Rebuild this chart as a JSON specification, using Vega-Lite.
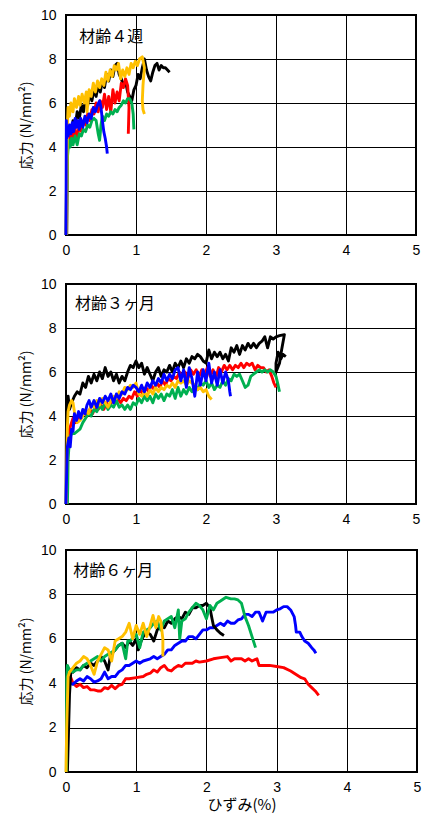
{
"$schema": "https://vega.github.io/schema/vega-lite/v6.json",
"padding": {"left": 18, "top": 7, "right": 5, "bottom": 0},
"spacing": 18,
"config": {
 "view": {"stroke": "#000", "strokeWidth": 2},
 "axis": {"grid": true, "gridColor": "#000", "gridWidth": 1, "gridOpacity": 1, "domain": false, "ticks": false,
  "labelFont": "Liberation Sans Narrow, Liberation Sans, sans-serif", "labelFontSize": 14, "labelColor": "#000",
  "titleFont": "Noto Sans CJK JP", "titleFontSize": 14, "titleColor": "#000", "titleFontWeight": "normal"},
 "axisX": {"labelPadding": 8, "format": "d", "labelFlush": false, "titleFontSize": 15, "titlePadding": 3},
 "axisY": {"labelPadding": 10, "titlePadding": 7},
 "line": {"strokeWidth": 2.9, "strokeJoin": "round"}
},
"vconcat": [
{
 "width": 350, "height": 220,
 "layer": [
 {
  "data": {"values": [
{"c":"black","x":0,"y":0},{"c":"black","x":0.01,"y":3.2},{"c":"black","x":0.02,"y":4.6},{"c":"black","x":0.04,"y":4.2},{"c":"black","x":0.06,"y":4.9},{"c":"black","x":0.08,"y":4.5},{"c":"black","x":0.1,"y":5.2},{"c":"black","x":0.13,"y":4.9},{"c":"black","x":0.16,"y":5.6},{"c":"black","x":0.19,"y":5.3},{"c":"black","x":0.22,"y":5.9},{"c":"black","x":0.25,"y":5.6},{"c":"black","x":0.28,"y":6.2},{"c":"black","x":0.31,"y":5.9},{"c":"black","x":0.34,"y":6.4},{"c":"black","x":0.37,"y":6.1},{"c":"black","x":0.4,"y":6.6},{"c":"black","x":0.43,"y":6.3},{"c":"black","x":0.46,"y":6.8},{"c":"black","x":0.49,"y":6.5},{"c":"black","x":0.52,"y":7.0},{"c":"black","x":0.55,"y":6.7},{"c":"black","x":0.58,"y":7.3},{"c":"black","x":0.61,"y":7.0},{"c":"black","x":0.64,"y":7.5},{"c":"black","x":0.67,"y":7.2},{"c":"black","x":0.7,"y":7.7},{"c":"black","x":0.73,"y":7.8},{"c":"black","x":0.76,"y":7.3},{"c":"black","x":0.79,"y":7.1},{"c":"black","x":0.82,"y":6.8},{"c":"black","x":0.85,"y":7.0},{"c":"black","x":0.88,"y":6.5},{"c":"black","x":0.91,"y":6.3},{"c":"black","x":0.94,"y":6.1},{"c":"black","x":0.97,"y":6.6},{"c":"black","x":1.0,"y":6.8},{"c":"black","x":1.03,"y":7.3},{"c":"black","x":1.06,"y":7.1},{"c":"black","x":1.09,"y":7.6},{"c":"black","x":1.12,"y":8.0},{"c":"black","x":1.15,"y":7.5},{"c":"black","x":1.18,"y":7.2},{"c":"black","x":1.21,"y":7.0},{"c":"black","x":1.24,"y":7.4},{"c":"black","x":1.27,"y":7.7},{"c":"black","x":1.3,"y":7.8},{"c":"black","x":1.33,"y":7.5},{"c":"black","x":1.36,"y":7.7},{"c":"black","x":1.39,"y":7.6},{"c":"black","x":1.42,"y":7.6},{"c":"black","x":1.45,"y":7.5},{"c":"black","x":1.48,"y":7.4},
{"c":"red","x":0.01,"y":0},{"c":"red","x":0.02,"y":3.8},{"c":"red","x":0.04,"y":4.5},{"c":"red","x":0.06,"y":4.1},{"c":"red","x":0.08,"y":4.6},{"c":"red","x":0.1,"y":4.2},{"c":"red","x":0.13,"y":4.8},{"c":"red","x":0.16,"y":4.4},{"c":"red","x":0.19,"y":5.0},{"c":"red","x":0.22,"y":4.7},{"c":"red","x":0.25,"y":5.2},{"c":"red","x":0.28,"y":5.0},{"c":"red","x":0.31,"y":5.5},{"c":"red","x":0.34,"y":5.2},{"c":"red","x":0.37,"y":5.7},{"c":"red","x":0.4,"y":5.5},{"c":"red","x":0.43,"y":6.0},{"c":"red","x":0.46,"y":5.6},{"c":"red","x":0.49,"y":6.1},{"c":"red","x":0.52,"y":5.8},{"c":"red","x":0.55,"y":6.4},{"c":"red","x":0.58,"y":5.7},{"c":"red","x":0.61,"y":6.3},{"c":"red","x":0.64,"y":5.6},{"c":"red","x":0.67,"y":6.6},{"c":"red","x":0.7,"y":6.0},{"c":"red","x":0.73,"y":6.5},{"c":"red","x":0.76,"y":6.1},{"c":"red","x":0.79,"y":6.9},{"c":"red","x":0.82,"y":6.7},{"c":"red","x":0.85,"y":7.1},{"c":"red","x":0.88,"y":6.8},{"c":"red","x":0.9,"y":5.8},{"c":"red","x":0.89,"y":4.6},
{"c":"green","x":0.01,"y":0},{"c":"green","x":0.02,"y":3.5},{"c":"green","x":0.04,"y":4.3},{"c":"green","x":0.06,"y":4.0},{"c":"green","x":0.08,"y":4.4},{"c":"green","x":0.1,"y":4.1},{"c":"green","x":0.13,"y":4.5},{"c":"green","x":0.16,"y":4.1},{"c":"green","x":0.19,"y":4.6},{"c":"green","x":0.22,"y":4.5},{"c":"green","x":0.25,"y":4.8},{"c":"green","x":0.28,"y":4.7},{"c":"green","x":0.31,"y":5.0},{"c":"green","x":0.34,"y":4.9},{"c":"green","x":0.37,"y":5.2},{"c":"green","x":0.4,"y":5.3},{"c":"green","x":0.43,"y":5.2},{"c":"green","x":0.46,"y":4.6},{"c":"green","x":0.48,"y":4.3},{"c":"green","x":0.5,"y":5.0},{"c":"green","x":0.52,"y":5.4},{"c":"green","x":0.55,"y":5.2},{"c":"green","x":0.58,"y":5.5},{"c":"green","x":0.61,"y":5.4},{"c":"green","x":0.64,"y":5.6},{"c":"green","x":0.67,"y":5.5},{"c":"green","x":0.7,"y":5.7},{"c":"green","x":0.73,"y":5.6},{"c":"green","x":0.76,"y":5.8},{"c":"green","x":0.79,"y":5.9},{"c":"green","x":0.82,"y":6.1},{"c":"green","x":0.85,"y":6.0},{"c":"green","x":0.88,"y":6.2},{"c":"green","x":0.91,"y":6.2},{"c":"green","x":0.94,"y":6.0},{"c":"green","x":0.96,"y":5.5},{"c":"green","x":0.97,"y":4.8},
{"c":"orange","x":0.005,"y":0},{"c":"orange","x":0.01,"y":2.2},{"c":"orange","x":0.02,"y":5.0},{"c":"orange","x":0.03,"y":5.8},{"c":"orange","x":0.05,"y":5.4},{"c":"orange","x":0.07,"y":6.0},{"c":"orange","x":0.1,"y":5.6},{"c":"orange","x":0.12,"y":6.2},{"c":"orange","x":0.15,"y":5.8},{"c":"orange","x":0.18,"y":6.3},{"c":"orange","x":0.2,"y":5.9},{"c":"orange","x":0.23,"y":6.4},{"c":"orange","x":0.26,"y":6.0},{"c":"orange","x":0.29,"y":6.5},{"c":"orange","x":0.3,"y":5.6},{"c":"orange","x":0.33,"y":6.6},{"c":"orange","x":0.36,"y":6.3},{"c":"orange","x":0.39,"y":6.9},{"c":"orange","x":0.42,"y":6.5},{"c":"orange","x":0.45,"y":7.0},{"c":"orange","x":0.48,"y":6.7},{"c":"orange","x":0.51,"y":7.1},{"c":"orange","x":0.54,"y":6.8},{"c":"orange","x":0.57,"y":7.4},{"c":"orange","x":0.6,"y":7.0},{"c":"orange","x":0.63,"y":7.5},{"c":"orange","x":0.66,"y":7.2},{"c":"orange","x":0.69,"y":7.7},{"c":"orange","x":0.72,"y":7.5},{"c":"orange","x":0.75,"y":7.8},{"c":"orange","x":0.78,"y":7.1},{"c":"orange","x":0.81,"y":7.5},{"c":"orange","x":0.84,"y":7.2},{"c":"orange","x":0.87,"y":7.6},{"c":"orange","x":0.9,"y":7.3},{"c":"orange","x":0.93,"y":7.8},{"c":"orange","x":0.96,"y":7.6},{"c":"orange","x":0.99,"y":7.9},{"c":"orange","x":1.02,"y":7.7},{"c":"orange","x":1.05,"y":8.0},{"c":"orange","x":1.09,"y":8.1},{"c":"orange","x":1.12,"y":7.6},{"c":"orange","x":1.1,"y":6.8},{"c":"orange","x":1.09,"y":6.1},{"c":"orange","x":1.1,"y":5.7},{"c":"orange","x":1.12,"y":5.5},
{"c":"blue","x":0,"y":0},{"c":"blue","x":0.005,"y":5.2},{"c":"blue","x":0.01,"y":4.4},{"c":"blue","x":0.02,"y":4.9},{"c":"blue","x":0.03,"y":4.5},{"c":"blue","x":0.05,"y":5.0},{"c":"blue","x":0.07,"y":4.6},{"c":"blue","x":0.09,"y":5.1},{"c":"blue","x":0.11,"y":4.7},{"c":"blue","x":0.13,"y":5.3},{"c":"blue","x":0.15,"y":4.9},{"c":"blue","x":0.17,"y":5.2},{"c":"blue","x":0.19,"y":4.8},{"c":"blue","x":0.21,"y":5.3},{"c":"blue","x":0.24,"y":4.9},{"c":"blue","x":0.27,"y":5.4},{"c":"blue","x":0.3,"y":5.1},{"c":"blue","x":0.33,"y":5.5},{"c":"blue","x":0.36,"y":5.3},{"c":"blue","x":0.39,"y":5.8},{"c":"blue","x":0.42,"y":5.6},{"c":"blue","x":0.45,"y":5.9},{"c":"blue","x":0.48,"y":6.1},{"c":"blue","x":0.5,"y":5.8},{"c":"blue","x":0.52,"y":5.2},{"c":"blue","x":0.54,"y":4.7},{"c":"blue","x":0.56,"y":4.4},{"c":"blue","x":0.58,"y":4.0},{"c":"blue","x":0.59,"y":3.7}
  ]},
  "mark": {"type": "line"},
  "encoding": {
   "x": {"field": "x", "type": "quantitative", "scale": {"domain": [0, 5], "nice": false}, "axis": {"values": [0,1,2,3,4,5], "title": null}},
   "y": {"field": "y", "type": "quantitative", "scale": {"domain": [0, 10], "nice": false}, "axis": {"values": [0,2,4,6,8,10], "title": "応力 (N/mm²)"}},
   "color": {"field": "c", "type": "nominal", "scale": {"domain": ["black","red","green","orange","blue"], "range": ["#000000","#FF0000","#00B050","#FFC000","#0000FF"]}, "legend": null},
   "order": {"value": null}
  }
 },
 {
  "data": {"values": [{"label": "材齢４週", "x": 0.19, "y": 8.98}]},
  "mark": {"type": "text", "align": "left", "baseline": "middle", "font": "Noto Sans CJK JP", "fontSize": 16, "color": "#000"},
  "encoding": {"x": {"field": "x", "type": "quantitative"}, "y": {"field": "y", "type": "quantitative"}, "text": {"field": "label"}}
 }
 ]
},
{
 "spacing": 15,
 "vconcat": [
{
 "width": 350, "height": 220,
 "layer": [
 {
  "data": {"values": [
{"c":"black","x":0,"y":0},{"c":"black","x":0.005,"y":3.0},{"c":"black","x":0.01,"y":4.8},{"c":"black","x":0.02,"y":4.1},{"c":"black","x":0.03,"y":4.9},{"c":"black","x":0.05,"y":4.3},{"c":"black","x":0.08,"y":4.6},{"c":"black","x":0.12,"y":4.9},{"c":"black","x":0.16,"y":5.1},{"c":"black","x":0.2,"y":5.0},{"c":"black","x":0.24,"y":5.5},{"c":"black","x":0.28,"y":5.3},{"c":"black","x":0.32,"y":5.8},{"c":"black","x":0.36,"y":5.5},{"c":"black","x":0.4,"y":5.9},{"c":"black","x":0.44,"y":5.6},{"c":"black","x":0.48,"y":6.0},{"c":"black","x":0.52,"y":5.7},{"c":"black","x":0.56,"y":6.2},{"c":"black","x":0.6,"y":5.8},{"c":"black","x":0.64,"y":6.0},{"c":"black","x":0.68,"y":5.6},{"c":"black","x":0.72,"y":5.9},{"c":"black","x":0.76,"y":5.5},{"c":"black","x":0.8,"y":5.8},{"c":"black","x":0.84,"y":5.6},{"c":"black","x":0.88,"y":6.0},{"c":"black","x":0.92,"y":6.3},{"c":"black","x":0.96,"y":6.2},{"c":"black","x":1.0,"y":6.5},{"c":"black","x":1.04,"y":6.2},{"c":"black","x":1.08,"y":6.4},{"c":"black","x":1.12,"y":5.9},{"c":"black","x":1.16,"y":6.2},{"c":"black","x":1.2,"y":5.9},{"c":"black","x":1.24,"y":5.6},{"c":"black","x":1.28,"y":6.0},{"c":"black","x":1.32,"y":6.2},{"c":"black","x":1.36,"y":5.8},{"c":"black","x":1.4,"y":6.1},{"c":"black","x":1.44,"y":6.0},{"c":"black","x":1.48,"y":6.3},{"c":"black","x":1.52,"y":6.0},{"c":"black","x":1.56,"y":6.4},{"c":"black","x":1.6,"y":6.2},{"c":"black","x":1.64,"y":6.5},{"c":"black","x":1.68,"y":6.2},{"c":"black","x":1.72,"y":6.6},{"c":"black","x":1.76,"y":6.4},{"c":"black","x":1.8,"y":6.7},{"c":"black","x":1.84,"y":6.6},{"c":"black","x":1.88,"y":6.8},{"c":"black","x":1.92,"y":6.7},{"c":"black","x":1.96,"y":6.5},{"c":"black","x":2.0,"y":6.4},{"c":"black","x":2.04,"y":7.0},{"c":"black","x":2.08,"y":6.6},{"c":"black","x":2.12,"y":6.9},{"c":"black","x":2.16,"y":6.7},{"c":"black","x":2.2,"y":6.9},{"c":"black","x":2.24,"y":6.6},{"c":"black","x":2.28,"y":6.8},{"c":"black","x":2.32,"y":6.5},{"c":"black","x":2.36,"y":7.1},{"c":"black","x":2.4,"y":6.9},{"c":"black","x":2.44,"y":7.2},{"c":"black","x":2.48,"y":6.8},{"c":"black","x":2.52,"y":7.2},{"c":"black","x":2.56,"y":7.0},{"c":"black","x":2.6,"y":7.3},{"c":"black","x":2.64,"y":7.1},{"c":"black","x":2.68,"y":7.3},{"c":"black","x":2.72,"y":7.1},{"c":"black","x":2.76,"y":7.3},{"c":"black","x":2.8,"y":7.4},{"c":"black","x":2.84,"y":7.6},{"c":"black","x":2.88,"y":7.1},{"c":"black","x":2.92,"y":7.6},{"c":"black","x":2.96,"y":7.5},{"c":"black","x":3.0,"y":7.6},{"c":"black","x":3.05,"y":7.65},{"c":"black","x":3.12,"y":7.7},{"c":"black","x":3.08,"y":7.0},{"c":"black","x":3.05,"y":6.4},{"c":"black","x":3.0,"y":6.0},{"c":"black","x":3.0,"y":6.4},{"c":"black","x":3.03,"y":6.9},{"c":"black","x":3.07,"y":6.6},{"c":"black","x":3.1,"y":6.8},{"c":"black","x":3.14,"y":6.7},
{"c":"red","x":0.01,"y":0},{"c":"red","x":0.02,"y":2.5},{"c":"red","x":0.04,"y":3.3},{"c":"red","x":0.07,"y":3.6},{"c":"red","x":0.1,"y":3.9},{"c":"red","x":0.14,"y":3.7},{"c":"red","x":0.18,"y":4.0},{"c":"red","x":0.22,"y":3.9},{"c":"red","x":0.26,"y":4.2},{"c":"red","x":0.3,"y":4.0},{"c":"red","x":0.34,"y":4.3},{"c":"red","x":0.38,"y":4.1},{"c":"red","x":0.42,"y":4.4},{"c":"red","x":0.46,"y":4.3},{"c":"red","x":0.5,"y":4.5},{"c":"red","x":0.54,"y":4.3},{"c":"red","x":0.58,"y":4.6},{"c":"red","x":0.62,"y":4.4},{"c":"red","x":0.66,"y":4.7},{"c":"red","x":0.7,"y":4.6},{"c":"red","x":0.74,"y":4.8},{"c":"red","x":0.78,"y":4.6},{"c":"red","x":0.82,"y":4.8},{"c":"red","x":0.86,"y":4.7},{"c":"red","x":0.9,"y":4.9},{"c":"red","x":0.94,"y":4.8},{"c":"red","x":0.98,"y":5.1},{"c":"red","x":1.02,"y":4.9},{"c":"red","x":1.06,"y":5.2},{"c":"red","x":1.1,"y":5.0},{"c":"red","x":1.14,"y":5.3},{"c":"red","x":1.18,"y":5.1},{"c":"red","x":1.22,"y":5.4},{"c":"red","x":1.26,"y":5.2},{"c":"red","x":1.3,"y":5.5},{"c":"red","x":1.34,"y":5.3},{"c":"red","x":1.38,"y":5.6},{"c":"red","x":1.42,"y":5.4},{"c":"red","x":1.46,"y":5.7},{"c":"red","x":1.5,"y":5.6},{"c":"red","x":1.54,"y":5.8},{"c":"red","x":1.58,"y":5.7},{"c":"red","x":1.62,"y":6.0},{"c":"red","x":1.66,"y":5.8},{"c":"red","x":1.7,"y":6.0},{"c":"red","x":1.74,"y":5.7},{"c":"red","x":1.78,"y":6.1},{"c":"red","x":1.82,"y":5.9},{"c":"red","x":1.86,"y":6.1},{"c":"red","x":1.9,"y":5.8},{"c":"red","x":1.94,"y":6.1},{"c":"red","x":1.98,"y":5.9},{"c":"red","x":2.02,"y":6.2},{"c":"red","x":2.06,"y":5.8},{"c":"red","x":2.1,"y":6.1},{"c":"red","x":2.14,"y":5.7},{"c":"red","x":2.18,"y":6.2},{"c":"red","x":2.22,"y":6.0},{"c":"red","x":2.26,"y":6.3},{"c":"red","x":2.3,"y":6.1},{"c":"red","x":2.34,"y":6.3},{"c":"red","x":2.38,"y":6.1},{"c":"red","x":2.42,"y":6.3},{"c":"red","x":2.46,"y":6.2},{"c":"red","x":2.5,"y":6.4},{"c":"red","x":2.54,"y":6.2},{"c":"red","x":2.58,"y":6.4},{"c":"red","x":2.62,"y":6.3},{"c":"red","x":2.66,"y":6.4},{"c":"red","x":2.7,"y":6.1},{"c":"red","x":2.74,"y":6.3},{"c":"red","x":2.78,"y":6.2},{"c":"red","x":2.82,"y":6.2},{"c":"red","x":2.86,"y":6.0},{"c":"red","x":2.9,"y":6.1},{"c":"red","x":2.94,"y":5.8},{"c":"red","x":2.97,"y":5.5},{"c":"red","x":3.0,"y":5.3},
{"c":"green","x":0.02,"y":0},{"c":"green","x":0.025,"y":0.8},{"c":"green","x":0.03,"y":2.0},{"c":"green","x":0.05,"y":3.0},{"c":"green","x":0.08,"y":3.2},{"c":"green","x":0.12,"y":3.2},{"c":"green","x":0.16,"y":3.3},{"c":"green","x":0.2,"y":3.4},{"c":"green","x":0.24,"y":3.7},{"c":"green","x":0.28,"y":3.9},{"c":"green","x":0.32,"y":4.1},{"c":"green","x":0.36,"y":4.0},{"c":"green","x":0.4,"y":4.3},{"c":"green","x":0.44,"y":4.2},{"c":"green","x":0.48,"y":4.5},{"c":"green","x":0.52,"y":4.3},{"c":"green","x":0.56,"y":4.6},{"c":"green","x":0.6,"y":4.3},{"c":"green","x":0.64,"y":4.5},{"c":"green","x":0.68,"y":4.4},{"c":"green","x":0.72,"y":4.7},{"c":"green","x":0.76,"y":4.4},{"c":"green","x":0.8,"y":4.5},{"c":"green","x":0.84,"y":4.3},{"c":"green","x":0.88,"y":4.5},{"c":"green","x":0.92,"y":4.3},{"c":"green","x":0.96,"y":4.6},{"c":"green","x":1.0,"y":4.5},{"c":"green","x":1.04,"y":4.8},{"c":"green","x":1.08,"y":4.6},{"c":"green","x":1.12,"y":4.9},{"c":"green","x":1.16,"y":4.7},{"c":"green","x":1.2,"y":4.9},{"c":"green","x":1.24,"y":4.6},{"c":"green","x":1.28,"y":5.0},{"c":"green","x":1.32,"y":4.8},{"c":"green","x":1.36,"y":5.0},{"c":"green","x":1.4,"y":4.7},{"c":"green","x":1.44,"y":5.0},{"c":"green","x":1.48,"y":4.9},{"c":"green","x":1.52,"y":5.2},{"c":"green","x":1.56,"y":4.8},{"c":"green","x":1.6,"y":5.3},{"c":"green","x":1.64,"y":4.9},{"c":"green","x":1.68,"y":5.2},{"c":"green","x":1.72,"y":5.0},{"c":"green","x":1.76,"y":5.3},{"c":"green","x":1.8,"y":5.1},{"c":"green","x":1.84,"y":5.4},{"c":"green","x":1.88,"y":5.2},{"c":"green","x":1.92,"y":5.5},{"c":"green","x":1.96,"y":5.4},{"c":"green","x":2.0,"y":5.6},{"c":"green","x":2.04,"y":5.3},{"c":"green","x":2.08,"y":5.5},{"c":"green","x":2.12,"y":5.2},{"c":"green","x":2.16,"y":5.4},{"c":"green","x":2.2,"y":5.3},{"c":"green","x":2.24,"y":5.6},{"c":"green","x":2.28,"y":5.4},{"c":"green","x":2.32,"y":5.7},{"c":"green","x":2.36,"y":5.6},{"c":"green","x":2.4,"y":5.9},{"c":"green","x":2.44,"y":5.8},{"c":"green","x":2.48,"y":5.9},{"c":"green","x":2.52,"y":5.6},{"c":"green","x":2.56,"y":5.3},{"c":"green","x":2.6,"y":5.4},{"c":"green","x":2.64,"y":5.8},{"c":"green","x":2.68,"y":5.9},{"c":"green","x":2.72,"y":6.0},{"c":"green","x":2.76,"y":6.1},{"c":"green","x":2.8,"y":6.0},{"c":"green","x":2.84,"y":6.1},{"c":"green","x":2.88,"y":6.0},{"c":"green","x":2.92,"y":6.1},{"c":"green","x":2.96,"y":6.0},{"c":"green","x":3.0,"y":5.8},{"c":"green","x":3.03,"y":5.4},{"c":"green","x":3.05,"y":5.1},
{"c":"orange","x":0.005,"y":0},{"c":"orange","x":0.01,"y":1.5},{"c":"orange","x":0.02,"y":3.5},{"c":"orange","x":0.03,"y":4.2},{"c":"orange","x":0.05,"y":4.5},{"c":"orange","x":0.08,"y":4.7},{"c":"orange","x":0.1,"y":4.6},{"c":"orange","x":0.12,"y":4.2},{"c":"orange","x":0.14,"y":3.9},{"c":"orange","x":0.16,"y":3.7},{"c":"orange","x":0.2,"y":3.8},{"c":"orange","x":0.24,"y":4.0},{"c":"orange","x":0.28,"y":4.3},{"c":"orange","x":0.32,"y":4.1},{"c":"orange","x":0.36,"y":4.5},{"c":"orange","x":0.4,"y":4.4},{"c":"orange","x":0.44,"y":4.7},{"c":"orange","x":0.48,"y":4.5},{"c":"orange","x":0.52,"y":4.8},{"c":"orange","x":0.56,"y":4.6},{"c":"orange","x":0.6,"y":4.4},{"c":"orange","x":0.64,"y":4.7},{"c":"orange","x":0.68,"y":4.9},{"c":"orange","x":0.72,"y":4.8},{"c":"orange","x":0.76,"y":5.1},{"c":"orange","x":0.8,"y":5.0},{"c":"orange","x":0.84,"y":5.3},{"c":"orange","x":0.88,"y":5.2},{"c":"orange","x":0.92,"y":5.4},{"c":"orange","x":0.96,"y":5.3},{"c":"orange","x":1.0,"y":5.5},{"c":"orange","x":1.04,"y":5.0},{"c":"orange","x":1.08,"y":4.9},{"c":"orange","x":1.12,"y":5.1},{"c":"orange","x":1.16,"y":4.9},{"c":"orange","x":1.2,"y":5.2},{"c":"orange","x":1.24,"y":5.0},{"c":"orange","x":1.28,"y":5.3},{"c":"orange","x":1.32,"y":5.1},{"c":"orange","x":1.36,"y":5.3},{"c":"orange","x":1.4,"y":5.2},{"c":"orange","x":1.44,"y":5.4},{"c":"orange","x":1.48,"y":5.3},{"c":"orange","x":1.52,"y":5.5},{"c":"orange","x":1.56,"y":5.3},{"c":"orange","x":1.6,"y":5.6},{"c":"orange","x":1.64,"y":5.5},{"c":"orange","x":1.68,"y":5.6},{"c":"orange","x":1.72,"y":5.4},{"c":"orange","x":1.76,"y":5.6},{"c":"orange","x":1.8,"y":5.5},{"c":"orange","x":1.84,"y":5.4},{"c":"orange","x":1.88,"y":5.2},{"c":"orange","x":1.92,"y":5.3},{"c":"orange","x":1.96,"y":5.1},{"c":"orange","x":2.0,"y":5.2},{"c":"orange","x":2.04,"y":4.9},{"c":"orange","x":2.08,"y":4.75},
{"c":"blue","x":0,"y":0},{"c":"blue","x":0.01,"y":1.5},{"c":"blue","x":0.02,"y":2.6},{"c":"blue","x":0.04,"y":3.0},{"c":"blue","x":0.06,"y":2.6},{"c":"blue","x":0.08,"y":3.4},{"c":"blue","x":0.1,"y":3.3},{"c":"blue","x":0.12,"y":4.1},{"c":"blue","x":0.15,"y":3.8},{"c":"blue","x":0.18,"y":4.2},{"c":"blue","x":0.21,"y":3.9},{"c":"blue","x":0.24,"y":4.3},{"c":"blue","x":0.27,"y":4.1},{"c":"blue","x":0.3,"y":4.5},{"c":"blue","x":0.33,"y":4.7},{"c":"blue","x":0.36,"y":4.4},{"c":"blue","x":0.4,"y":4.7},{"c":"blue","x":0.44,"y":4.4},{"c":"blue","x":0.48,"y":4.8},{"c":"blue","x":0.52,"y":4.6},{"c":"blue","x":0.56,"y":4.9},{"c":"blue","x":0.6,"y":4.7},{"c":"blue","x":0.64,"y":5.0},{"c":"blue","x":0.68,"y":4.6},{"c":"blue","x":0.72,"y":5.0},{"c":"blue","x":0.76,"y":4.8},{"c":"blue","x":0.8,"y":5.1},{"c":"blue","x":0.84,"y":5.0},{"c":"blue","x":0.88,"y":5.3},{"c":"blue","x":0.92,"y":5.2},{"c":"blue","x":0.96,"y":5.4},{"c":"blue","x":1.0,"y":5.3},{"c":"blue","x":1.04,"y":5.1},{"c":"blue","x":1.08,"y":5.4},{"c":"blue","x":1.12,"y":5.1},{"c":"blue","x":1.16,"y":5.5},{"c":"blue","x":1.2,"y":5.3},{"c":"blue","x":1.24,"y":5.6},{"c":"blue","x":1.28,"y":5.4},{"c":"blue","x":1.32,"y":5.7},{"c":"blue","x":1.36,"y":5.5},{"c":"blue","x":1.4,"y":5.9},{"c":"blue","x":1.44,"y":5.6},{"c":"blue","x":1.48,"y":5.9},{"c":"blue","x":1.52,"y":5.7},{"c":"blue","x":1.56,"y":6.1},{"c":"blue","x":1.6,"y":6.2},{"c":"blue","x":1.64,"y":5.6},{"c":"blue","x":1.68,"y":6.1},{"c":"blue","x":1.72,"y":5.3},{"c":"blue","x":1.76,"y":6.2},{"c":"blue","x":1.8,"y":5.7},{"c":"blue","x":1.84,"y":4.9},{"c":"blue","x":1.88,"y":6.0},{"c":"blue","x":1.92,"y":5.4},{"c":"blue","x":1.96,"y":6.1},{"c":"blue","x":2.0,"y":5.6},{"c":"blue","x":2.04,"y":6.4},{"c":"blue","x":2.08,"y":5.5},{"c":"blue","x":2.12,"y":6.0},{"c":"blue","x":2.16,"y":5.4},{"c":"blue","x":2.2,"y":6.1},{"c":"blue","x":2.24,"y":5.5},{"c":"blue","x":2.28,"y":6.0},{"c":"blue","x":2.32,"y":5.6},{"c":"blue","x":2.34,"y":5.1},{"c":"blue","x":2.35,"y":4.9}
  ]},
  "mark": {"type": "line"},
  "encoding": {
   "x": {"field": "x", "type": "quantitative", "scale": {"domain": [0, 5], "nice": false}, "axis": {"values": [0,1,2,3,4,5], "title": null}},
   "y": {"field": "y", "type": "quantitative", "scale": {"domain": [0, 10], "nice": false}, "axis": {"values": [0,2,4,6,8,10], "title": "応力 (N/mm²)"}},
   "color": {"field": "c", "type": "nominal", "scale": {"domain": ["black","red","green","orange","blue"], "range": ["#000000","#FF0000","#00B050","#FFC000","#0000FF"]}, "legend": null},
   "order": {"value": null}
  }
 },
 {
  "data": {"values": [{"label": "材齢３ヶ月", "x": 0.13, "y": 9.08}]},
  "mark": {"type": "text", "align": "left", "baseline": "middle", "font": "Noto Sans CJK JP", "fontSize": 16, "color": "#000"},
  "encoding": {"x": {"field": "x", "type": "quantitative"}, "y": {"field": "y", "type": "quantitative"}, "text": {"field": "label"}}
 }
 ]
},
{
 "width": 351, "height": 222,
 "layer": [
 {
  "data": {"values": [
{"c":"red","x":0.005,"y":0},{"c":"red","x":0.02,"y":0.3},{"c":"red","x":0.03,"y":4.2},{"c":"red","x":0.05,"y":4.4},{"c":"red","x":0.1,"y":4.0},{"c":"red","x":0.15,"y":3.85},{"c":"red","x":0.2,"y":3.95},{"c":"red","x":0.25,"y":3.8},{"c":"red","x":0.3,"y":3.85},{"c":"red","x":0.35,"y":3.7},{"c":"red","x":0.4,"y":3.7},{"c":"red","x":0.45,"y":3.65},{"c":"red","x":0.5,"y":3.65},{"c":"red","x":0.55,"y":3.8},{"c":"red","x":0.6,"y":3.75},{"c":"red","x":0.65,"y":3.9},{"c":"red","x":0.7,"y":3.75},{"c":"red","x":0.75,"y":3.9},{"c":"red","x":0.8,"y":3.95},{"c":"red","x":0.85,"y":4.2},{"c":"red","x":0.9,"y":4.2},{"c":"red","x":1.0,"y":4.25},{"c":"red","x":1.1,"y":4.3},{"c":"red","x":1.15,"y":4.4},{"c":"red","x":1.2,"y":4.45},{"c":"red","x":1.25,"y":4.6},{"c":"red","x":1.3,"y":4.5},{"c":"red","x":1.35,"y":4.7},{"c":"red","x":1.4,"y":4.8},{"c":"red","x":1.45,"y":4.6},{"c":"red","x":1.5,"y":4.55},{"c":"red","x":1.55,"y":4.7},{"c":"red","x":1.6,"y":4.8},{"c":"red","x":1.65,"y":4.75},{"c":"red","x":1.7,"y":4.9},{"c":"red","x":1.8,"y":4.9},{"c":"red","x":1.85,"y":5.0},{"c":"red","x":1.9,"y":4.95},{"c":"red","x":2.0,"y":5.0},{"c":"red","x":2.1,"y":5.1},{"c":"red","x":2.2,"y":5.15},{"c":"red","x":2.3,"y":5.2},{"c":"red","x":2.35,"y":5.0},{"c":"red","x":2.4,"y":5.1},{"c":"red","x":2.5,"y":5.1},{"c":"red","x":2.55,"y":5.0},{"c":"red","x":2.6,"y":5.1},{"c":"red","x":2.65,"y":5.0},{"c":"red","x":2.72,"y":5.1},{"c":"red","x":2.75,"y":4.8},{"c":"red","x":2.8,"y":4.8},{"c":"red","x":2.9,"y":4.8},{"c":"red","x":3.0,"y":4.75},{"c":"red","x":3.1,"y":4.7},{"c":"red","x":3.2,"y":4.55},{"c":"red","x":3.3,"y":4.35},{"c":"red","x":3.35,"y":4.25},{"c":"red","x":3.4,"y":4.2},{"c":"red","x":3.45,"y":3.95},{"c":"red","x":3.5,"y":3.8},{"c":"red","x":3.55,"y":3.65},{"c":"red","x":3.6,"y":3.45},
{"c":"blue","x":0.01,"y":0},{"c":"blue","x":0.03,"y":4.3},{"c":"blue","x":0.05,"y":4.0},{"c":"blue","x":0.1,"y":3.95},{"c":"blue","x":0.15,"y":4.1},{"c":"blue","x":0.2,"y":4.2},{"c":"blue","x":0.25,"y":4.1},{"c":"blue","x":0.3,"y":4.3},{"c":"blue","x":0.35,"y":4.2},{"c":"blue","x":0.4,"y":4.05},{"c":"blue","x":0.45,"y":4.1},{"c":"blue","x":0.5,"y":4.2},{"c":"blue","x":0.55,"y":4.5},{"c":"blue","x":0.6,"y":4.2},{"c":"blue","x":0.65,"y":4.3},{"c":"blue","x":0.7,"y":4.3},{"c":"blue","x":0.75,"y":4.5},{"c":"blue","x":0.8,"y":4.6},{"c":"blue","x":0.85,"y":4.8},{"c":"blue","x":0.9,"y":4.8},{"c":"blue","x":0.95,"y":4.9},{"c":"blue","x":1.0,"y":5.0},{"c":"blue","x":1.05,"y":4.9},{"c":"blue","x":1.1,"y":5.0},{"c":"blue","x":1.2,"y":5.1},{"c":"blue","x":1.25,"y":5.2},{"c":"blue","x":1.3,"y":5.1},{"c":"blue","x":1.35,"y":5.2},{"c":"blue","x":1.4,"y":5.3},{"c":"blue","x":1.45,"y":5.5},{"c":"blue","x":1.5,"y":5.5},{"c":"blue","x":1.55,"y":5.7},{"c":"blue","x":1.6,"y":5.8},{"c":"blue","x":1.65,"y":5.9},{"c":"blue","x":1.7,"y":5.9},{"c":"blue","x":1.75,"y":6.1},{"c":"blue","x":1.8,"y":6.1},{"c":"blue","x":1.85,"y":6.0},{"c":"blue","x":1.9,"y":6.2},{"c":"blue","x":1.95,"y":6.4},{"c":"blue","x":2.0,"y":6.4},{"c":"blue","x":2.05,"y":6.5},{"c":"blue","x":2.1,"y":6.5},{"c":"blue","x":2.15,"y":6.6},{"c":"blue","x":2.2,"y":6.7},{"c":"blue","x":2.25,"y":6.6},{"c":"blue","x":2.3,"y":6.8},{"c":"blue","x":2.35,"y":6.7},{"c":"blue","x":2.4,"y":6.7},{"c":"blue","x":2.45,"y":6.85},{"c":"blue","x":2.5,"y":6.9},{"c":"blue","x":2.55,"y":7.1},{"c":"blue","x":2.6,"y":7.1},{"c":"blue","x":2.65,"y":7.0},{"c":"blue","x":2.7,"y":7.2},{"c":"blue","x":2.75,"y":7.2},{"c":"blue","x":2.8,"y":6.8},{"c":"blue","x":2.85,"y":7.2},{"c":"blue","x":2.9,"y":7.2},{"c":"blue","x":2.95,"y":7.2},{"c":"blue","x":3.0,"y":7.3},{"c":"blue","x":3.05,"y":7.35},{"c":"blue","x":3.1,"y":7.45},{"c":"blue","x":3.15,"y":7.45},{"c":"blue","x":3.2,"y":7.3},{"c":"blue","x":3.25,"y":7.0},{"c":"blue","x":3.27,"y":6.6},{"c":"blue","x":3.28,"y":6.3},{"c":"blue","x":3.33,"y":6.3},{"c":"blue","x":3.36,"y":6.1},{"c":"blue","x":3.4,"y":5.9},{"c":"blue","x":3.45,"y":5.8},{"c":"blue","x":3.5,"y":5.6},{"c":"blue","x":3.53,"y":5.5},{"c":"blue","x":3.56,"y":5.35},
{"c":"black","x":0.02,"y":0},{"c":"black","x":0.05,"y":3.5},{"c":"black","x":0.07,"y":4.6},{"c":"black","x":0.1,"y":4.5},{"c":"black","x":0.15,"y":4.7},{"c":"black","x":0.2,"y":4.6},{"c":"black","x":0.25,"y":4.8},{"c":"black","x":0.3,"y":4.7},{"c":"black","x":0.35,"y":4.9},{"c":"black","x":0.4,"y":4.8},{"c":"black","x":0.45,"y":5.0},{"c":"black","x":0.5,"y":5.2},{"c":"black","x":0.55,"y":5.0},{"c":"black","x":0.6,"y":4.6},{"c":"black","x":0.63,"y":5.2},{"c":"black","x":0.67,"y":5.4},{"c":"black","x":0.7,"y":5.5},{"c":"black","x":0.75,"y":5.7},{"c":"black","x":0.8,"y":5.8},{"c":"black","x":0.85,"y":5.6},{"c":"black","x":0.9,"y":5.9},{"c":"black","x":0.95,"y":5.7},{"c":"black","x":1.0,"y":6.0},{"c":"black","x":1.03,"y":5.5},{"c":"black","x":1.07,"y":5.9},{"c":"black","x":1.1,"y":6.1},{"c":"black","x":1.15,"y":6.3},{"c":"black","x":1.2,"y":6.2},{"c":"black","x":1.25,"y":5.9},{"c":"black","x":1.3,"y":6.4},{"c":"black","x":1.35,"y":6.6},{"c":"black","x":1.4,"y":6.5},{"c":"black","x":1.45,"y":6.8},{"c":"black","x":1.5,"y":6.7},{"c":"black","x":1.55,"y":6.9},{"c":"black","x":1.6,"y":7.0},{"c":"black","x":1.65,"y":6.9},{"c":"black","x":1.7,"y":7.2},{"c":"black","x":1.75,"y":7.1},{"c":"black","x":1.8,"y":7.4},{"c":"black","x":1.85,"y":7.4},{"c":"black","x":1.9,"y":7.5},{"c":"black","x":1.95,"y":7.5},{"c":"black","x":2.0,"y":7.6},{"c":"black","x":2.05,"y":7.4},{"c":"black","x":2.08,"y":6.9},{"c":"black","x":2.1,"y":6.6},{"c":"black","x":2.15,"y":6.4},{"c":"black","x":2.2,"y":6.25},{"c":"black","x":2.25,"y":6.15},
{"c":"green","x":0.005,"y":0},{"c":"green","x":0.01,"y":4.2},{"c":"green","x":0.02,"y":4.8},{"c":"green","x":0.05,"y":4.6},{"c":"green","x":0.1,"y":4.5},{"c":"green","x":0.15,"y":4.6},{"c":"green","x":0.2,"y":4.6},{"c":"green","x":0.25,"y":4.8},{"c":"green","x":0.3,"y":4.9},{"c":"green","x":0.35,"y":5.0},{"c":"green","x":0.4,"y":5.1},{"c":"green","x":0.45,"y":5.2},{"c":"green","x":0.5,"y":5.0},{"c":"green","x":0.55,"y":5.2},{"c":"green","x":0.6,"y":5.3},{"c":"green","x":0.65,"y":5.4},{"c":"green","x":0.7,"y":5.5},{"c":"green","x":0.75,"y":5.7},{"c":"green","x":0.8,"y":5.8},{"c":"green","x":0.85,"y":5.1},{"c":"green","x":0.88,"y":5.9},{"c":"green","x":0.92,"y":5.9},{"c":"green","x":0.96,"y":6.1},{"c":"green","x":1.0,"y":6.2},{"c":"green","x":1.05,"y":5.6},{"c":"green","x":1.1,"y":6.3},{"c":"green","x":1.15,"y":6.4},{"c":"green","x":1.2,"y":6.5},{"c":"green","x":1.25,"y":6.7},{"c":"green","x":1.3,"y":6.8},{"c":"green","x":1.35,"y":6.4},{"c":"green","x":1.4,"y":6.8},{"c":"green","x":1.45,"y":6.9},{"c":"green","x":1.5,"y":7.0},{"c":"green","x":1.55,"y":6.5},{"c":"green","x":1.6,"y":7.3},{"c":"green","x":1.62,"y":6.0},{"c":"green","x":1.65,"y":6.8},{"c":"green","x":1.7,"y":6.9},{"c":"green","x":1.75,"y":7.2},{"c":"green","x":1.8,"y":7.4},{"c":"green","x":1.85,"y":7.6},{"c":"green","x":1.9,"y":7.5},{"c":"green","x":1.95,"y":7.3},{"c":"green","x":2.0,"y":6.9},{"c":"green","x":2.05,"y":7.5},{"c":"green","x":2.1,"y":7.3},{"c":"green","x":2.15,"y":7.6},{"c":"green","x":2.2,"y":7.7},{"c":"green","x":2.28,"y":7.87},{"c":"green","x":2.35,"y":7.8},{"c":"green","x":2.4,"y":7.8},{"c":"green","x":2.45,"y":7.75},{"c":"green","x":2.5,"y":7.6},{"c":"green","x":2.55,"y":7.0},{"c":"green","x":2.6,"y":6.6},{"c":"green","x":2.65,"y":6.1},{"c":"green","x":2.7,"y":5.6},
{"c":"orange","x":0,"y":0},{"c":"orange","x":0.01,"y":2.0},{"c":"orange","x":0.03,"y":4.3},{"c":"orange","x":0.05,"y":4.5},{"c":"orange","x":0.1,"y":4.7},{"c":"orange","x":0.15,"y":4.9},{"c":"orange","x":0.2,"y":5.0},{"c":"orange","x":0.25,"y":5.2},{"c":"orange","x":0.3,"y":5.1},{"c":"orange","x":0.35,"y":4.8},{"c":"orange","x":0.4,"y":4.4},{"c":"orange","x":0.45,"y":5.0},{"c":"orange","x":0.5,"y":5.3},{"c":"orange","x":0.55,"y":5.6},{"c":"orange","x":0.6,"y":5.5},{"c":"orange","x":0.65,"y":5.0},{"c":"orange","x":0.7,"y":5.9},{"c":"orange","x":0.75,"y":6.0},{"c":"orange","x":0.8,"y":6.1},{"c":"orange","x":0.85,"y":6.3},{"c":"orange","x":0.9,"y":6.7},{"c":"orange","x":0.95,"y":6.0},{"c":"orange","x":1.0,"y":6.6},{"c":"orange","x":1.05,"y":6.2},{"c":"orange","x":1.1,"y":6.7},{"c":"orange","x":1.15,"y":6.1},{"c":"orange","x":1.2,"y":6.6},{"c":"orange","x":1.24,"y":7.05},{"c":"orange","x":1.28,"y":6.5},{"c":"orange","x":1.32,"y":7.0},{"c":"orange","x":1.35,"y":6.8},{"c":"orange","x":1.38,"y":6.0},{"c":"orange","x":1.38,"y":5.2}
  ]},
  "mark": {"type": "line"},
  "encoding": {
   "x": {"field": "x", "type": "quantitative", "scale": {"domain": [0, 5], "nice": false}, "axis": {"values": [0,1,2,3,4,5], "title": "ひずみ(%)"}},
   "y": {"field": "y", "type": "quantitative", "scale": {"domain": [0, 10], "nice": false}, "axis": {"values": [0,2,4,6,8,10], "title": "応力 (N/mm²)"}},
   "color": {"field": "c", "type": "nominal", "scale": {"domain": ["red","blue","black","green","orange"], "range": ["#FF0000","#0000FF","#000000","#00B050","#FFC000"]}, "legend": null},
   "order": {"value": null}
  }
 },
 {
  "data": {"values": [{"label": "材齢６ヶ月", "x": 0.105, "y": 9.04}]},
  "mark": {"type": "text", "align": "left", "baseline": "middle", "font": "Noto Sans CJK JP", "fontSize": 16, "color": "#000"},
  "encoding": {"x": {"field": "x", "type": "quantitative"}, "y": {"field": "y", "type": "quantitative"}, "text": {"field": "label"}}
 }
 ]
}
 ]
}
]
}
